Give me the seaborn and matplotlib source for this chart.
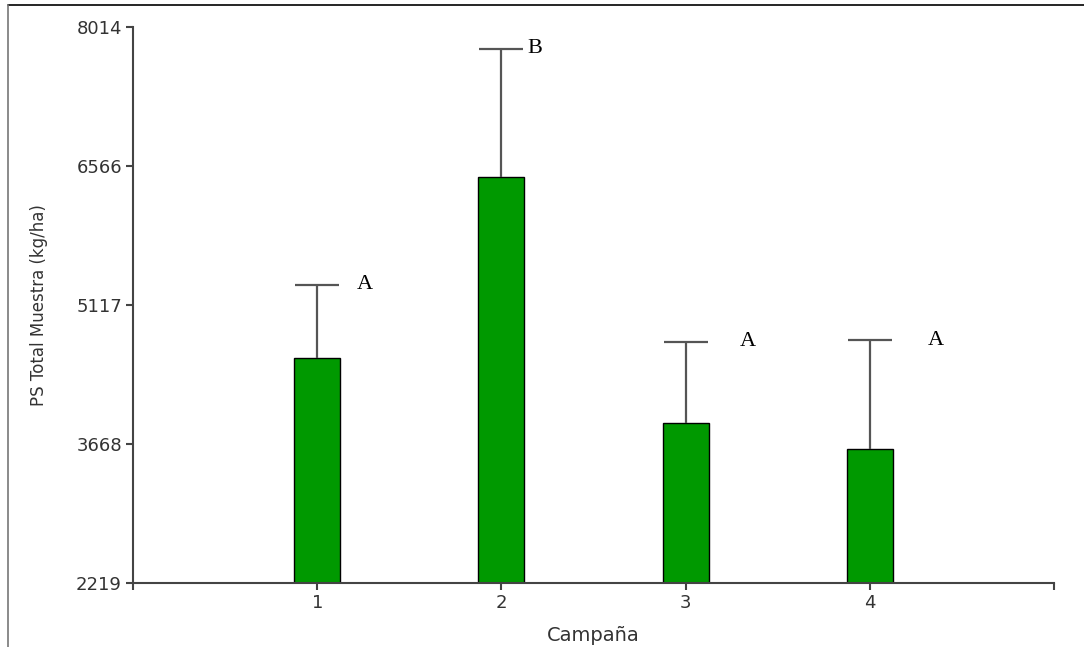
#PS total muestra por campaña
#barras con error superior y letras de significancia

import numpy as np
import matplotlib.pyplot as plt
from matplotlib.lines import Line2D
import seaborn as sns
import pandas as pd

#datos
campana = [1, 2, 3, 4]
media = [4561, 6451, 3887, 3615]
error_sup = [764, 1334, 844, 1136]
letras = ['A', 'B', 'A', 'A']
yticks = [2219, 3668, 5117, 6566, 8014]

#desplazamiento horizontal de cada letra (layout)
desp_letra = [0.26, 0.18, 0.34, 0.36]

df = pd.DataFrame({'Campaña': campana, 'PS': media})

sns.set_style("ticks")
plt.rcParams['font.family'] = ['DejaVu Sans']

fig = plt.figure(figsize=(10.84, 6.47), dpi=100)
ax = fig.add_axes([0.1227, 0.0989, 0.8496, 0.8594])

sns.barplot(data=df, x='Campaña', y='PS', native_scale=True, width=0.25,
            color='#009900', saturation=1, edgecolor='black', linewidth=1,
            errorbar=None, ax=ax)

eb = ax.errorbar(campana, media, yerr=[np.zeros(len(media)), error_sup], fmt='none',
                 ecolor='#555555', elinewidth=1.6, capsize=16, capthick=1.6, zorder=1)
#sin tapa inferior
eb[1][0].set_visible(False)

for x, m, e, l, d in zip(campana, media, error_sup, letras, desp_letra):
    ax.text(x + d, m + e, l, ha='center', va='center', fontsize=16,
            family='Liberation Serif', color='black')

ax.set_xlim(0, 5)
ax.set_ylim(yticks[0], yticks[-1])
ax.set_yticks(yticks)
ax.set_xticks([0, 1, 2, 3, 4, 5])
ax.set_xticklabels(['', '1', '2', '3', '4', ''])

for s in ['top', 'right']:
    ax.spines[s].set_visible(False)
for s in ['left', 'bottom']:
    ax.spines[s].set_color('#444444')
    ax.spines[s].set_linewidth(1.5)

ax.tick_params(axis='both', colors='#444444', width=1.5, length=5,
               labelsize=13, labelcolor='#333333', pad=3)
ax.set_xlabel('Campaña', fontsize=14, color='#333333', labelpad=10)
ax.set_ylabel('PS Total Muestra (kg/ha)', fontsize=12, color='#333333')
ax.yaxis.set_label_coords(-0.092, 0.5)

#marco de la figura
fig.add_artist(Line2D([0.0074, 1], [0.9923, 0.9923], transform=fig.transFigure,
                      color='black', linewidth=1.2))
fig.add_artist(Line2D([0.0074, 0.0074], [0, 0.9923], transform=fig.transFigure,
                      color='#777777', linewidth=1.2))

plt.savefig('out.png', dpi=100)
